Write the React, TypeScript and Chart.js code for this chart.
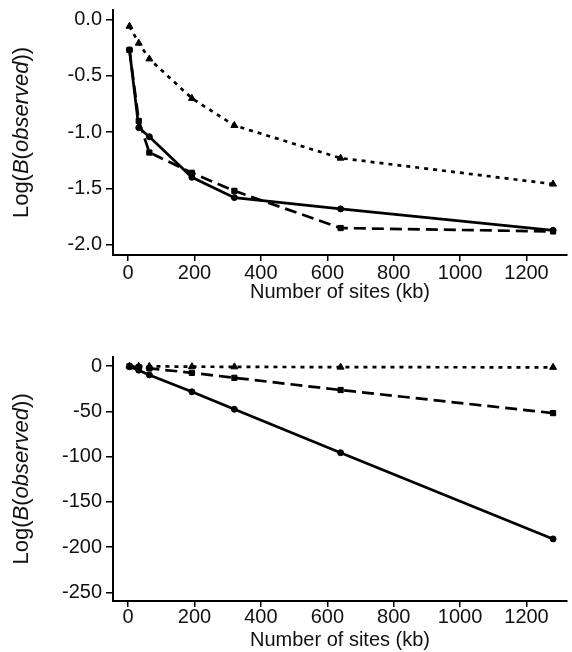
import React, { useEffect, useRef } from "react";
import { Chart, registerables } from "chart.js";

Chart.register(...registerables);

// ---- data ----
const sites = [4, 32, 64, 192, 320, 640, 1280];

const topSolid = [-0.27, -0.96, -1.04, -1.4, -1.58, -1.68, -1.87];
const topDashed = [-0.27, -0.9, -1.18, -1.36, -1.52, -1.85, -1.88];
const topDotted = [-0.06, -0.21, -0.35, -0.7, -0.94, -1.23, -1.46];

const bottomSolid = [-0.8, -4.6, -9.8, -28.5, -47.8, -95.8, -191];
const bottomDashed = [-0.3, -1.3, -2.6, -7.5, -13, -26.5, -52];
const bottomDotted = [-0.06, -0.21, -0.35, -0.7, -0.94, -1.23, -1.46];

const xTicks = [0, 200, 400, 600, 800, 1000, 1200];
const topYTicks = [0, -0.5, -1, -1.5, -2];
const bottomYTicks = [0, -50, -100, -150, -200, -250];

const xTitle = "Number of sites (kb)";
const yTitleSegments: [string, boolean][] = [
  ["Log(", false],
  ["B", true],
  ["(", false],
  ["observed", true],
  ["))", false],
];

const FONT = "'Liberation Sans', Arial, Helvetica, sans-serif";
const INK = "#111";

const yTitlePlugin = {
  id: "yTitleMixed",
  afterDraw(chart: any) {
    const { ctx, chartArea } = chart;
    const size = 22;
    ctx.save();
    const widths = yTitleSegments.map(([t, it]) => {
      ctx.font = `${it ? "italic " : ""}${size}px ${FONT}`;
      return ctx.measureText(t).width;
    });
    const total = widths.reduce((a, b) => a + b, 0);
    ctx.translate(22, (chartArea.top + chartArea.bottom) / 2);
    ctx.rotate(-Math.PI / 2);
    ctx.textBaseline = "middle";
    ctx.textAlign = "left";
    ctx.fillStyle = INK;
    let x = -total / 2;
    yTitleSegments.forEach(([t, it], i) => {
      ctx.font = `${it ? "italic " : ""}${size}px ${FONT}`;
      ctx.fillText(t, x, 0);
      x += widths[i];
    });
    ctx.restore();
  },
};

type PanelProps = {
  top: number;
  height: number;
  padTop: number;
  xAxisH: number;
  titlePad: number;
  xTickPad: number;
  yMin: number;
  yMax: number;
  yTicks: number[];
  decimals: number;
  solid: number[];
  dashed: number[];
  dotted: number[];
};

function Panel(p: PanelProps) {
  const ref = useRef<HTMLCanvasElement | null>(null);
  useEffect(() => {
    if (!ref.current) return;
    const mk = (vals: number[]) => sites.map((x, i) => ({ x, y: vals[i] }));
    const common = {
      borderColor: "#000",
      backgroundColor: "#000",
      pointBackgroundColor: "#000",
      pointBorderColor: "#000",
      pointBorderWidth: 1,
      borderWidth: 2.7,
      fill: false,
      tension: 0,
    };
    const chart = new Chart(ref.current, {
      type: "line",
      data: {
        datasets: [
          { ...common, data: mk(p.dotted), borderDash: [4, 5], pointStyle: "triangle", pointRadius: 4 },
          { ...common, data: mk(p.dashed), borderDash: [12, 6], pointStyle: "rect", pointRadius: 3.7 },
          { ...common, data: mk(p.solid), borderDash: [], pointStyle: "circle", pointRadius: 3 },
        ],
      },
      options: {
        animation: false,
        responsive: false,
        events: [],
        layout: { padding: { top: p.padTop, left: 0, right: 0, bottom: 0 } },
        plugins: { legend: { display: false }, tooltip: { enabled: false } },
        scales: {
          x: {
            type: "linear",
            min: -45.6,
            max: 1322,
            afterBuildTicks: (s: any) => {
              s.ticks = xTicks.map((v) => ({ value: v }));
            },
            afterFit: (s: any) => {
              s.height = p.xAxisH;
            },
            grid: { display: true, drawOnChartArea: false, drawTicks: true, tickLength: 6, color: "#000", lineWidth: 1.5 },
            border: { display: true, color: "#000", width: 2 },
            ticks: {
              color: INK,
              font: { family: FONT, size: 20 },
              padding: p.xTickPad,
              maxRotation: 0,
              autoSkip: false,
              callback: (v: any) => String(v),
            },
            title: { display: true, text: xTitle, color: INK, font: { family: FONT, size: 20 }, padding: { top: 0, bottom: p.titlePad } },
          },
          y: {
            type: "linear",
            min: p.yMin,
            max: p.yMax,
            afterBuildTicks: (s: any) => {
              s.ticks = p.yTicks.map((v) => ({ value: v }));
            },
            afterFit: (s: any) => {
              s.width = 113;
            },
            grid: { display: true, drawOnChartArea: false, drawTicks: true, tickLength: 7, color: "#000", lineWidth: 1.5 },
            border: { display: true, color: "#000", width: 2 },
            ticks: {
              color: INK,
              font: { family: FONT, size: 20 },
              padding: 4,
              autoSkip: false,
              callback: (v: any) => Number(v).toFixed(p.decimals),
            },
          },
        },
      },
      plugins: [yTitlePlugin],
    });
    return () => chart.destroy();
  }, []);
  return (
    <div style={{ position: "absolute", left: 0, top: p.top, width: 572, height: p.height }}>
      <canvas ref={ref} width={572} height={p.height} style={{ width: 572, height: p.height, display: "block" }} />
    </div>
  );
}

export default function App() {
  return (
    <div style={{ position: "fixed", left: 0, top: 0, width: 572, height: 652, background: "#fff", overflow: "hidden" }}>
      <Panel
        top={-20}
        height={330}
        padTop={30}
        xAxisH={55}
        titlePad={6}
        xTickPad={0}
        yMin={-2.089}
        yMax={0.084}
        yTicks={topYTicks}
        decimals={1}
        solid={topSolid}
        dashed={topDashed}
        dotted={topDotted}
      />
      <Panel
        top={310}
        height={342}
        padTop={46.7}
        xAxisH={51}
        titlePad={0}
        xTickPad={-1.5}
        yMin={-259.6}
        yMax={10.3}
        yTicks={bottomYTicks}
        decimals={0}
        solid={bottomSolid}
        dashed={bottomDashed}
        dotted={bottomDotted}
      />
    </div>
  );
}
